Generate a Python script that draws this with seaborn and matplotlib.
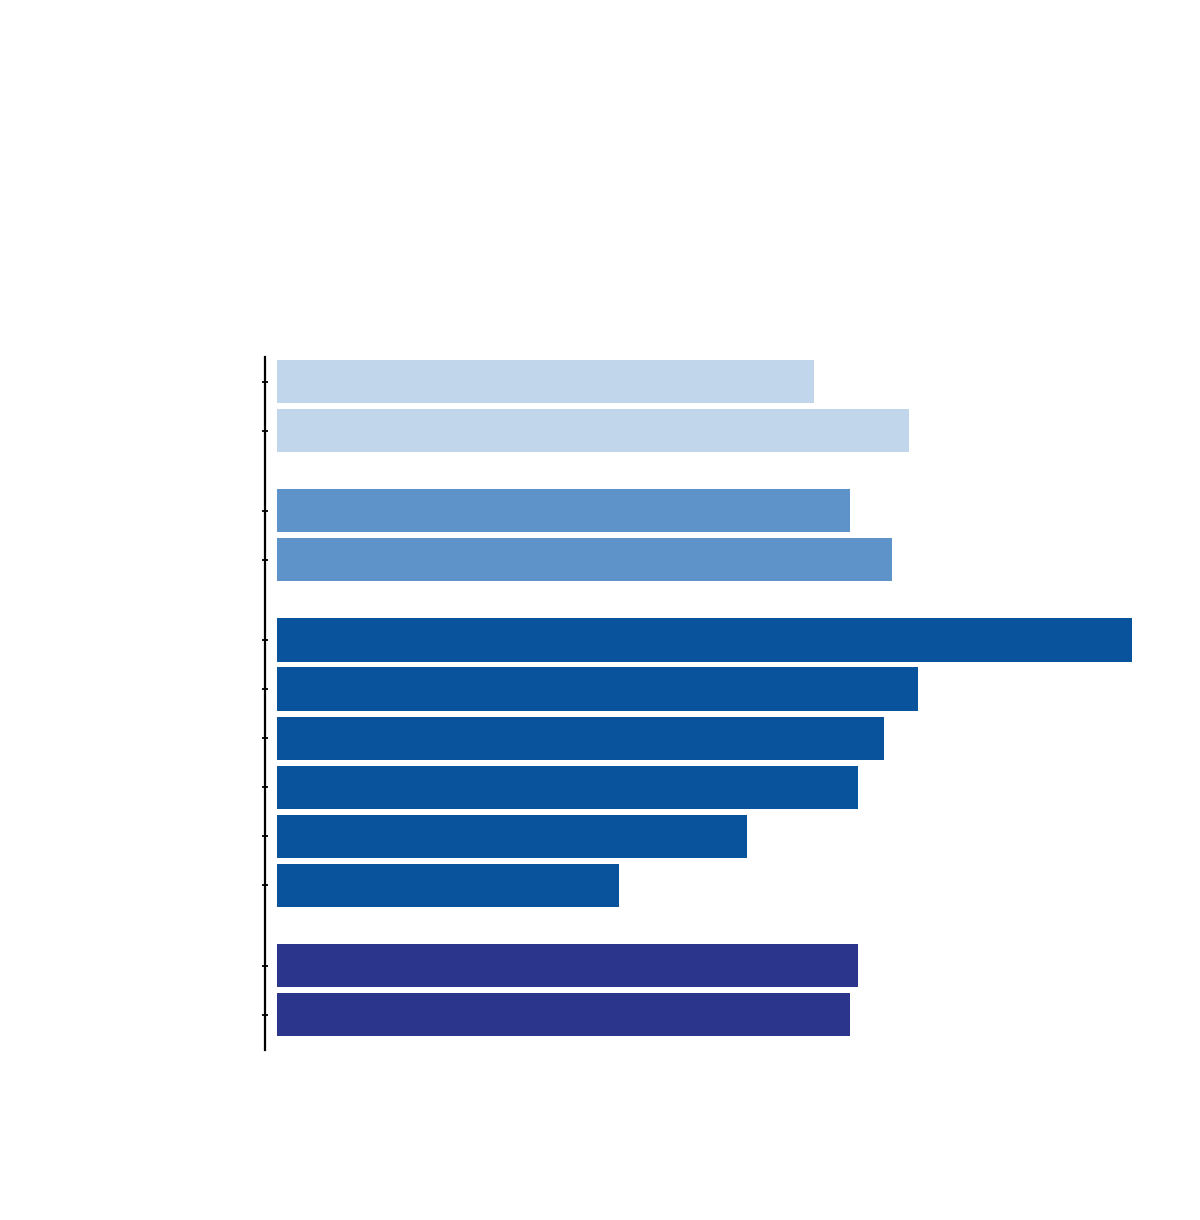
import numpy as np
import pandas as pd
import matplotlib
matplotlib.use('Agg')
import matplotlib.pyplot as plt
import seaborn as sns

# bar values (arbitrary units), top to bottom
values = [53.7, 63.2, 57.3, 61.5, 85.5, 64.1, 60.7, 58.1, 47.0, 34.2, 58.1, 57.3]
groups = ['A', 'A', 'B', 'B', 'C', 'C', 'C', 'C', 'C', 'C', 'D', 'D']
group_colors = {'A': '#C1D5EB', 'B': '#5E93C9', 'C': '#08539B', 'D': '#2C358C'}

# rows with a little extra space between groups
group_gap = 0.63
group_index = {g: i for i, g in enumerate(group_colors)}
positions = [i + group_gap * group_index[g] for i, g in enumerate(groups)]

df = pd.DataFrame({'value': values, 'group': groups, 'pos': positions})

sns.set_style('white')

fig = plt.figure(figsize=(12, 12.2), dpi=100)
ax = fig.add_axes([277 / 1200, (1220 - 1050) / 1220, 900 / 1200, 693 / 1220])

sns.barplot(data=df, x='value', y='pos', hue='group', palette=group_colors,
            orient='h', native_scale=True, width=0.88, linewidth=0,
            saturation=1, legend=False, ax=ax)

ax.set_xlim(0, 90)
ax.set_ylim(positions[-1] + 0.72, -0.5)
ax.set_yticks(positions)
ax.set_yticklabels([''] * len(positions))
ax.set_xticks([])
ax.set_xlabel('')
ax.set_ylabel('')

for side in ['top', 'right', 'bottom']:
    ax.spines[side].set_visible(False)
ax.spines['left'].set_position(('outward', 8.6))
ax.spines['left'].set_linewidth(1.6)
ax.spines['left'].set_color('black')
ax.tick_params(axis='y', left=True, direction='inout', length=5, width=1.3, color='black')

plt.savefig('out.png', dpi=100)
plt.close()
